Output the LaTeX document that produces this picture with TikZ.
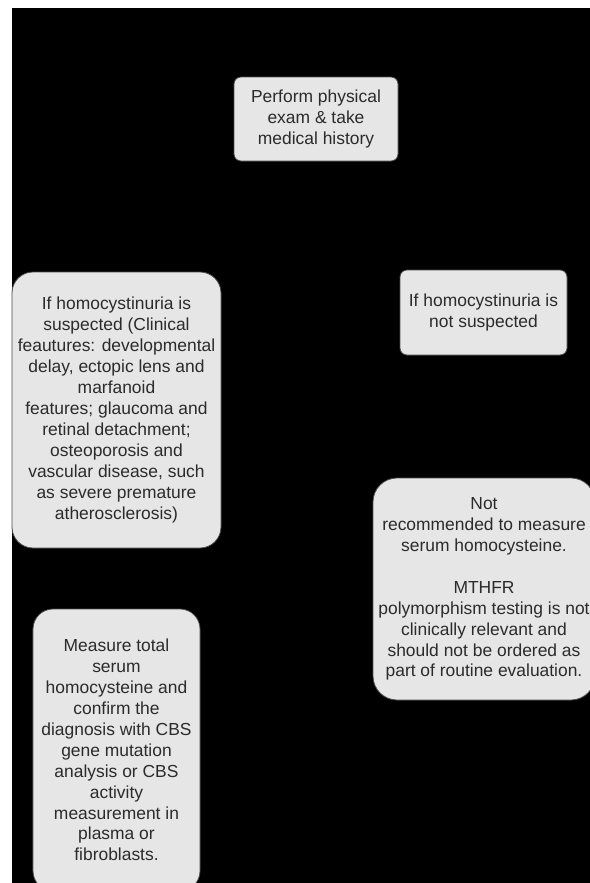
\documentclass[tikz,border=0pt]{standalone}
\usepackage{fontspec}
\setmainfont{Liberation Sans}
\usetikzlibrary{positioning}
\definecolor{boxfill}{HTML}{E6E6E6}
\definecolor{boxline}{HTML}{4D4D4D}
\definecolor{boxtext}{HTML}{2B2B2B}

\begin{document}
\begin{tikzpicture}[x=1bp, y=-1bp,
  stepbox/.style={draw=boxline, line width=0.8bp, fill=boxfill, text=boxtext,
    align=center, inner sep=0pt, font=\fontsize{17.5}{21}\selectfont}]
\useasboundingbox (0,0) rectangle (590,883);
\clip (0,0) rectangle (590,883);

% draw black background
\fill[black] (12,8) rectangle (590,883);

% draw first step
\node[stepbox, rounded corners=7bp, minimum width=164bp, minimum height=84bp]
  (exam) at (316,119) {Perform physical\\exam \& take\\medical history};

% draw the two branches
\node[stepbox, rounded corners=21bp, minimum width=209bp, minimum height=276bp]
  (suspected) at (116.5,410) {If homocystinuria is\\suspected (Clinical\\feautures: developmental\\delay, ectopic lens and\\marfanoid\\features; glaucoma and\\retinal detachment;\\osteoporosis and\\vascular disease, such\\as severe premature\\atherosclerosis)};
\node[stepbox, rounded corners=7bp, minimum width=167bp, minimum height=85bp]
  (notsuspected) at (483.5,312.5) {If homocystinuria is\\not suspected};

% draw the outcomes
\node[stepbox, rounded corners=20bp, minimum width=167bp, minimum height=282bp]
  (measure) at (116.5,750) {Measure total\\serum\\homocysteine and\\confirm the\\diagnosis with CBS\\gene mutation\\analysis or CBS\\activity\\measurement in\\plasma or\\fibroblasts.};
\node[stepbox, rounded corners=24bp, minimum width=222bp, minimum height=222bp]
  (notrecommended) at (484,589) {Not\\recommended to measure\\serum homocysteine.\\[21bp]MTHFR\\polymorphism testing is not\\clinically relevant and\\should not be ordered as\\part of routine evaluation.};

\end{tikzpicture}
\end{document}
